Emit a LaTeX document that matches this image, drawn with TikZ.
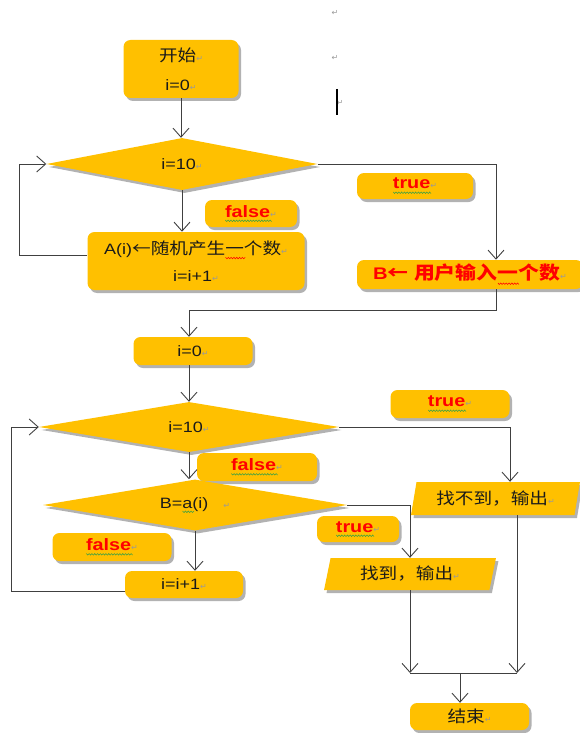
\documentclass[tikz,border=0pt]{standalone}
\usepackage{fontspec}
\setmainfont{Liberation Sans}[FakeStretch=1.2]
\newfontfamily\cjk{Noto Sans CJK SC}[Scale=1.08,FakeStretch=1.15]
\newfontfamily\symf{DejaVu Sans}
\usetikzlibrary{shapes.geometric,shadows,arrows.meta}
\definecolor{gold}{HTML}{FFC000}
\definecolor{linec}{HTML}{404040}
\definecolor{spellg}{HTML}{3CA043}
\definecolor{txtc}{HTML}{1A1A1A}
\newcommand\retmark{{\symf\fontsize{8}{8}\selectfont\textcolor{gray!80}{↵}}}
\newcount\wvn
\newdimen\wvx
\newcommand\wavy[2]{\setbox0=\hbox{#2}\leavevmode\rlap{\begin{pgfpicture}%
 \pgfsetcornersarced{\pgfpointorigin}\pgfsetlinewidth{0.55pt}\pgfsetstrokecolor{#1}\pgfsetdash{}{0pt}%
 \pgfpathmoveto{\pgfpoint{0pt}{-3pt}}\wvx=0pt\relax\wvn=0\relax
 \loop\ifdim\wvx<\wd0
   \advance\wvx by 1.4pt\relax\advance\wvn by 1\relax
   \ifodd\wvn\pgfpathlineto{\pgfpoint{\wvx}{-4.5pt}}\else\pgfpathlineto{\pgfpoint{\wvx}{-3pt}}\fi
 \repeat
 \pgfusepath{stroke}\pgfsetbaseline{0pt}\end{pgfpicture}}\box0}
\newcommand\lbl[1]{{\fontsize{16.5}{18}\selectfont\bfseries\wavy{spellg}{\color{red}#1}}\retmark}
\tikzset{
  shad/.style={drop shadow={shadow xshift=2.5pt,shadow yshift=-3pt,opacity=0.3,fill=black}},
  txtfont/.style={font=\fontsize{15}{18}\selectfont, text=txtc},
  boxn/.style={rectangle, rounded corners=7pt, fill=gold, shad, inner sep=0pt, align=center, txtfont},
  dia/.style={diamond, aspect=5, fill=gold, shad, inner sep=0pt, txtfont},
  para/.style={trapezium, trapezium left angle=75, trapezium right angle=105, trapezium stretches=true, fill=gold, shad, inner sep=0pt, txtfont},
  conn/.style={draw=linec, line width=0.9pt, -{Straight Barb[length=9pt,width=16pt]}},
  lineonly/.style={draw=linec, line width=0.9pt},
}
\begin{document}
\begin{tikzpicture}[x=1pt,y=-1pt]
\useasboundingbox (0,0) rectangle (579,733);
% nodes
\node[boxn, minimum width=115pt, minimum height=58pt] (start) at (181,69)
  {{\cjk 开始}\retmark\\[11pt] i=0\retmark};
\node[dia, minimum width=271pt, minimum height=52pt] (d1) at (182,164) {i=10\retmark};
\node[boxn, minimum width=217pt, minimum height=58pt] (A) at (196,261)
  {A(i){\cjk ←随机产生}\wavy{red}{\cjk 一}{\cjk 个数}\retmark\\[9pt] i=i+1\retmark};
\node[boxn, minimum width=92pt, minimum height=27pt] (f1) at (251,213.5) {\lbl{false}};
\node[boxn, minimum width=116pt, minimum height=26pt] (t1) at (415,186) {\lbl{true}};
\node[boxn, minimum width=226pt, minimum height=29pt] (B) at (470,274.5)
  {{\fontsize{16.8}{18}\selectfont\bfseries\color{red}B{\cjk ←} {\cjk 用户输入}\wavy{red}{\cjk 一}{\cjk 个数}}\retmark};
\node[boxn, minimum width=119pt, minimum height=28pt] (i0) at (193,351) {i=0\retmark};
\node[dia, minimum width=300pt, minimum height=50pt] (d2) at (189,427) {i=10\retmark};
\node[boxn, minimum width=119pt, minimum height=28pt] (t2) at (450,404) {\lbl{true}};
\node[boxn, minimum width=120pt, minimum height=28pt] (f2) at (257,467) {\lbl{false}};
\node[dia, minimum width=304pt, minimum height=51pt] (d3) at (195,505)
  {B=\wavy{spellg}{a}(i)\quad\retmark};
\node[boxn, minimum width=82pt, minimum height=26pt] (t3) at (358,529) {\lbl{true}};
\node[boxn, minimum width=119pt, minimum height=28pt] (f3) at (112,547) {\lbl{false}};
\node[boxn, minimum width=118pt, minimum height=27pt] (inc) at (184,584.5) {i=i+1\retmark};
\node[para, minimum width=169pt, minimum height=33pt] (nf) at (495.5,498.5) {{\cjk 找不到，输出}\retmark};
\node[para, minimum width=172pt, minimum height=32pt] (fd) at (410,574) {{\cjk 找到，输出}\retmark};
\node[boxn, minimum width=119pt, minimum height=27pt] (end) at (469.5,716.5) {{\cjk 结束}\retmark};
% stray editor marks
\node (r1) at (335,13) {\retmark};
\node (r2) at (335,58) {\retmark};
\node (r3) at (340,103) {\retmark};
\coordinate (cur1) at (337,89);
\coordinate (cur2) at (337,115);
\draw[line width=2.2pt, black] (cur1) -- (cur2);
% coordinates
\coordinate (j1) at (189,310);
\coordinate (m) at (460,673);
\coordinate (nfb) at ([xshift=21.5pt]nf.south);
% connectors
\draw[conn] (start.south) -- (start.south |- d1.north);
\draw[conn] (d1.south) -- (d1.south |- A.north);
\draw[conn] ([yshift=6pt]A.west) -| ([xshift=-27pt]d1.west) -- (d1.west);
\draw[conn] (d1.east) -| ([xshift=26pt]B.north);
\draw[conn] ([xshift=26pt]B.south) |- (j1) -- (j1 |- i0.north);
\draw[conn] (d2.north |- i0.south) -- (d2.north);
\draw[conn] (d2.east) -| ([xshift=14.5pt]nf.north);
\draw[conn] (d2.south) -- (d2.south |- d3.north);
\draw[conn] (d3.east) -| (fd.north);
\draw[conn] (d3.south) -- (d3.south |- inc.north);
\draw[conn] ([yshift=-6.5pt]inc.west) -| ([xshift=-27pt]d2.west) -- (d2.west);
\draw[conn] (fd.south) -- (fd.south |- m);
\draw[conn] (nfb) -- (nfb |- m);
\draw[lineonly] (fd.south |- m) -- (nfb |- m);
\draw[conn] (m) -- (m |- end.north);
\end{tikzpicture}
\end{document}
